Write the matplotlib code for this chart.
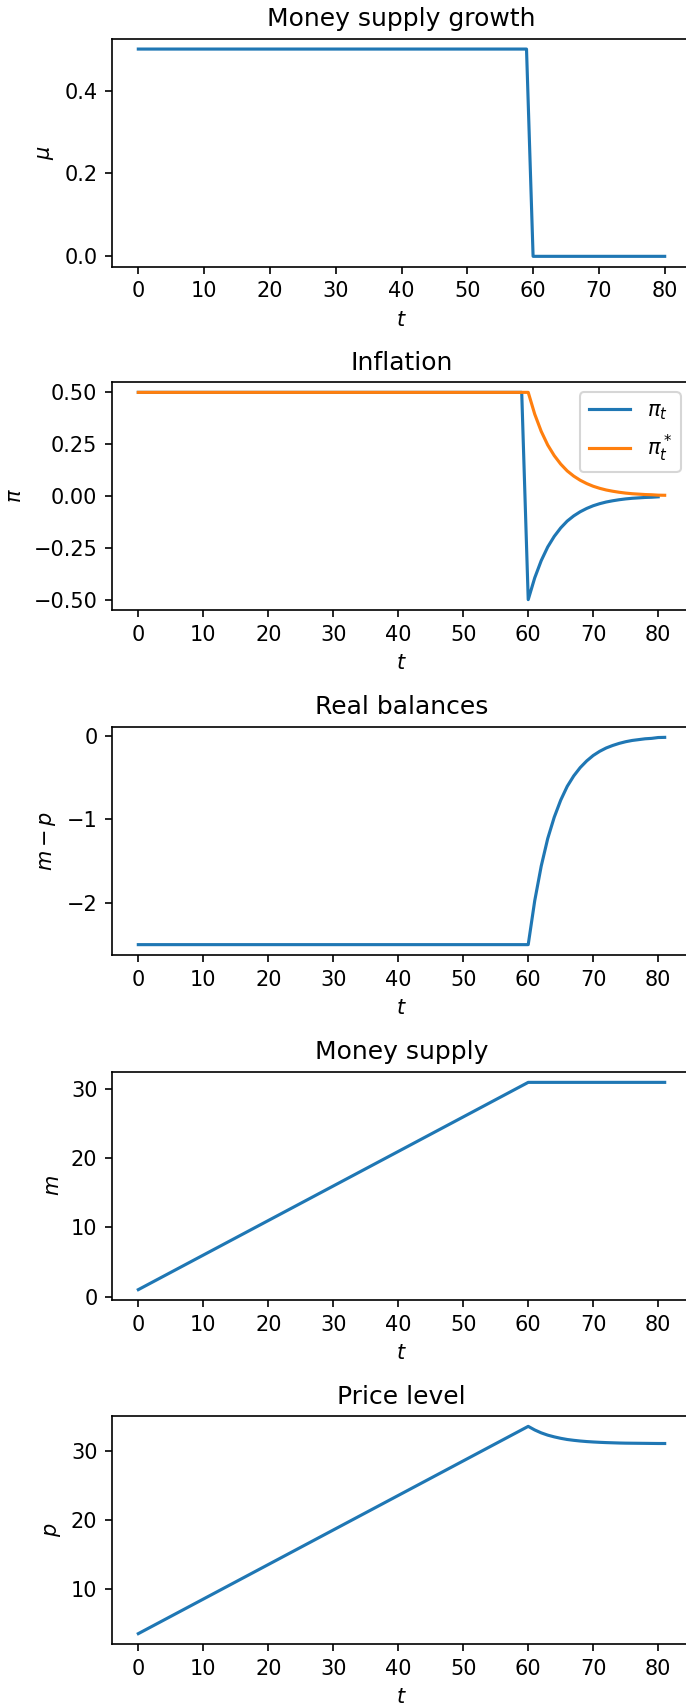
import matplotlib as mpl

mpl.use('agg')

import matplotlib.pyplot as plt

# money supply growth (step at t=60)
t_mu = [0, 59, 60, 80]
mu = [0.5, 0.5, 0.0, 0.0]

# actual inflation
t_pi = [0, 59] + list(range(60, 81))
pi = [0.5, 0.5,
      -0.5, -0.395, -0.312, -0.246, -0.195, -0.154, -0.121, -0.096, -0.076, -0.060,
      -0.047, -0.037, -0.029, -0.023, -0.018, -0.014, -0.011, -0.009, -0.007, -0.006,
      -0.004]

# expected inflation
t_pistar = [0] + list(range(60, 82))
pistar = [0.5,
          0.5, 0.395, 0.312, 0.246, 0.195, 0.154, 0.121, 0.096, 0.076, 0.060,
          0.047, 0.037, 0.029, 0.023, 0.018, 0.014, 0.011, 0.009, 0.007, 0.006,
          0.004, 0.0035]

# real balances m - p
t_real = [0] + list(range(60, 82))
real = [-2.5,
        -2.5, -1.975, -1.56, -1.23, -0.975, -0.77, -0.605, -0.48, -0.38, -0.30,
        -0.235, -0.185, -0.145, -0.115, -0.09, -0.07, -0.055, -0.045, -0.035, -0.03,
        -0.02, -0.018]

# money supply
t_m = [0, 60, 81]
m = [1.0, 31.0, 31.0]

# price level
t_p = [0] + list(range(60, 82))
p = [3.5,
     33.5, 32.98, 32.56, 32.23, 31.98, 31.77, 31.6, 31.48, 31.38, 31.3,
     31.24, 31.19, 31.15, 31.12, 31.09, 31.07, 31.06, 31.05, 31.04, 31.03,
     31.02, 31.02]

W, H = 686, 1705
fig = plt.figure(figsize=(W / 150, H / 150), dpi=150)

# the right spine sits just past the image edge, as in the original crop
tops = [38.7, 382, 727, 1072, 1416]
ax_h = 228
left = 112
ax_w = 579
axes = []
for top in tops:
    ax = fig.add_axes([left / W, 1 - (top + ax_h) / H, ax_w / W, ax_h / H])
    axes.append(ax)

ax = axes[0]
ax.plot(t_mu, mu)
ax.set_title("Money supply growth")
ax.set_ylabel(r"$\mu$")
ax.set_xlabel(r"$t$")

ax = axes[1]
ax.plot(t_pi, pi, label=r"$\pi_t$")
ax.plot(t_pistar, pistar, label=r"$\pi^*_t$")
ax.set_title("Inflation")
ax.set_ylabel(r"$\pi$")
ax.set_xlabel(r"$t$")
ax.legend(loc="upper right")

ax = axes[2]
ax.plot(t_real, real)
ax.set_title("Real balances")
ax.set_ylabel(r"$m - p$")
ax.set_xlabel(r"$t$")

ax = axes[3]
ax.plot(t_m, m)
ax.set_title("Money supply")
ax.set_ylabel(r"$m$")
ax.set_xlabel(r"$t$")

ax = axes[4]
ax.plot(t_p, p)
ax.set_title("Price level")
ax.set_ylabel(r"$p$")
ax.set_xlabel(r"$t$")

for ax in axes:
    ax.set_xticks(range(0, 81, 10))

fig.savefig("out.png", dpi=150)
